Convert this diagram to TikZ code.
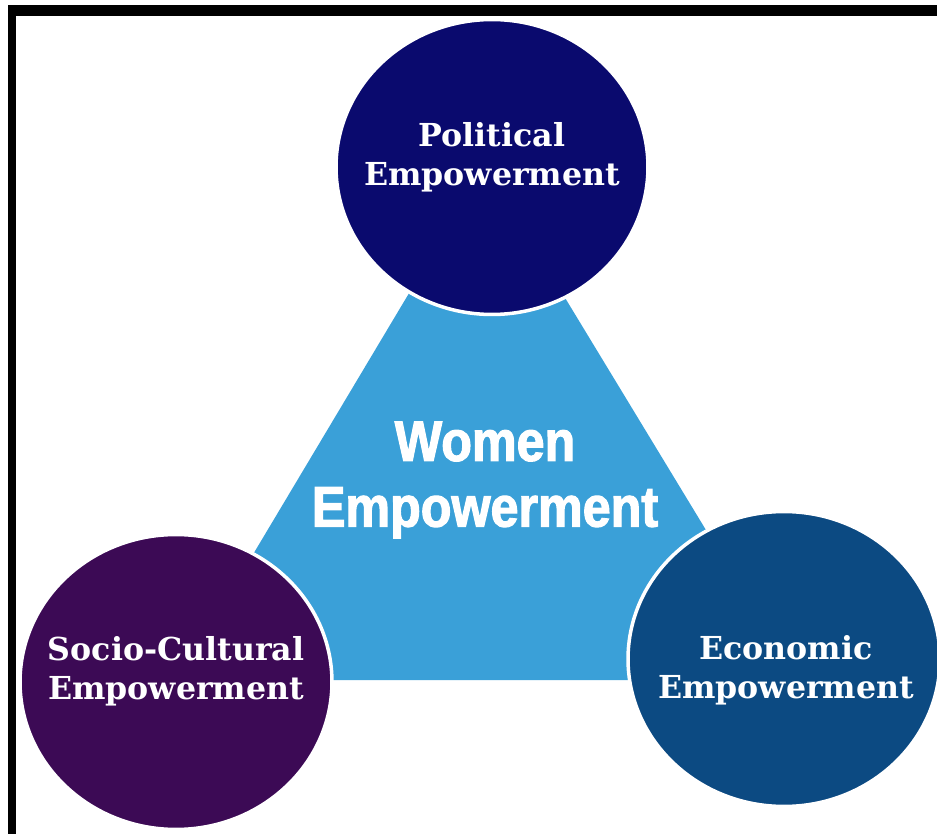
\documentclass[tikz,border=0pt]{standalone}
\usepackage{xcolor}
\usepackage{fontspec}
\setmainfont{DejaVu Serif}
\newfontfamily\womenfont[FakeStretch=0.88,FakeBold=2]{Liberation Sans}
\usepackage{tikz}
\usetikzlibrary{shapes,positioning,calc}

\definecolor{politicalblue}{RGB}{10,10,110}
\definecolor{socialpurple}{RGB}{60,10,85}
\definecolor{economicblue}{RGB}{12,74,130}
\definecolor{womencyan}{RGB}{58,160,216}

\begin{document}
\begin{tikzpicture}[x=0.02cm, y=-0.02cm]
\tikzset{
bubble/.style     = {draw=white, line width=0.07cm, shape=ellipse, minimum width=6.24cm, minimum height=5.9cm, inner sep=0pt},
bubbletext/.style = {text=white, align=center, inner sep=0pt, font=\bfseries\fontsize{18}{22.2}\selectfont},
}
    \useasboundingbox (0,0) rectangle (937,834);

    % Frame
    \fill [black] (8,5) rectangle (937,16);
    \fill [black] (8,5) rectangle (16,834);

    % Triangle
    \coordinate (apex)         at (485,166);
    \coordinate (left corner)  at (178,680);
    \coordinate (right corner) at (797,680);
    \fill [womencyan] (apex) -- (left corner) -- (right corner) -- cycle;
    \node [text=white, align=center, font=\womenfont\bfseries\fontsize{32.5}{37.4}\selectfont] (women) at (485,480) {Women\\Empowerment};

    % Main nodes
    \node [bubble, fill=politicalblue] (political) at (492,167) {};
    \node [bubble, fill=socialpurple]  (social)    at (176,682) {};
    \node [bubble, fill=economicblue]  (economic)  at (784,659) {};

    % Labels
    \node [bubbletext] (political text) at ($(political)+(0,-10)$) {Political\\Empowerment};
    \node [bubbletext] (social text)    at ($(social)+(0,-11)$)    {Socio-Cultural\\Empowerment};
    \node [bubbletext] (economic text)  at ($(economic)+(2,11)$)   {Economic\\Empowerment};

\end{tikzpicture}
\end{document}
